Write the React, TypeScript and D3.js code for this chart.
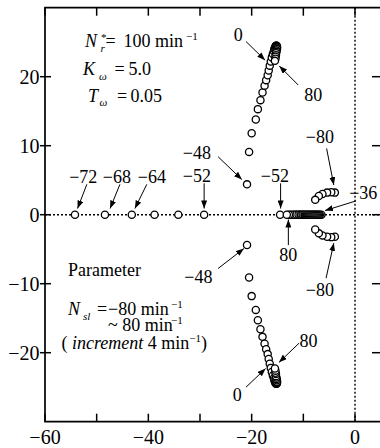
import React from 'react';
import * as d3 from 'd3';

// parameter N_sl (min^-1) for each plotted root
const bigPairN = [-48, -44, -40, -36, -32, -28, -24, -20, -16, -12, -8, -4, 0, 4, 8, 12, 16, 20, 24, 28, 32, 36, 40, 44, 48, 52, 56, 60, 64, 68, 72, 76, 80];
const bigPairRe = [-20.9, -20.5, -20.0, -19.2, -18.8, -18.3, -17.9, -17.5, -17.2, -16.9, -16.7, -16.5, -16.3, -16.1, -15.9, -15.7, -15.6, -15.5, -15.4, -15.3, -15.2, -15.2, -15.1, -15.1, -15.1, -15.1, -15.2, -15.2, -15.3, -15.3, -15.4, -15.4, -15.5];
const bigPairIm = [4.4, 9.1, 11.8, 13.8, 15.3, 16.6, 17.7, 18.7, 19.5, 20.2, 20.9, 21.6, 22.2, 22.8, 23.3, 23.7, 24.0, 24.2, 24.4, 24.5, 24.5, 24.5, 24.4, 24.3, 24.2, 24.0, 23.8, 23.6, 23.4, 23.1, 22.9, 22.6, 22.3];

const leftRealN = [-72, -68, -64, -60, -56, -52];
const leftRealRe = [-54.2, -48.4, -43.2, -38.8, -34.2, -29.2];

const rightRealN = [-52, -36, -32, -28, -24, -20, -16, -12, -8, -4, 0, 4, 8, 12, 16, 20, 24, 28, 32, 36, 40, 44, 48, 52, 56, 60, 64, 68, 72, 76, 80];
const rightRealRe = [-14.5, -6.5, -6.8, -7.0, -7.2, -7.4, -7.6, -7.8, -8.0, -8.2, -8.4, -8.6, -8.8, -9.0, -9.2, -9.4, -9.6, -9.8, -10.0, -10.2, -10.4, -10.6, -10.8, -11.0, -11.3, -11.5, -11.8, -12.1, -12.5, -12.8, -13.2];

const smallPairN = [-80, -76, -72, -68, -64, -60];
const smallPairRe = [-3.9, -4.6, -5.4, -6.3, -7.0, -7.7];
const smallPairIm = [3.2, 3.25, 3.2, 3.0, 2.7, 2.15];

const xTicks = [-60, -50, -40, -30, -20, -10, 0];
const xTickLabels = [-60, -40, -20, 0];
const yTicks = [-20, -10, 0, 10, 20];

// callouts: label, text centre, arrow tail, arrow head (data units)
const callouts = [
  { label: '0', t: [-22.6, 26.0], a: [-21.1, 25.1], b: [-17.4, 22.4] },
  { label: '80', t: [-8.1, 17.3], a: [-11.0, 18.8], b: [-14.65, 21.55] },
  { label: '−48', t: [-30.6, 8.9], a: [-26.5, 8.4], b: [-21.9, 5.1] },
  { label: '−52', t: [-30.6, 5.6], a: [-29.2, 4.55], b: [-29.2, 0.9] },
  { label: '−52', t: [-15.5, 5.6], a: [-14.4, 4.55], b: [-14.4, 0.9] },
  { label: '80', t: [-12.9, -5.9], a: [-12.9, -4.4], b: [-12.9, -0.7] },
  { label: '−80', t: [-6.8, 11.3], a: [-5.5, 9.6], b: [-4.1, 4.3] },
  { label: '−36', t: [1.6, 3.1], a: [0.2, 2.0], b: [-5.8, 0.6] },
  { label: '−72', t: [-52.6, 5.5], a: [-51.9, 4.4], b: [-53.7, 0.9] },
  { label: '−68', t: [-46.1, 5.5], a: [-45.5, 4.4], b: [-47.4, 0.9] },
  { label: '−64', t: [-39.3, 5.5], a: [-40.3, 4.4], b: [-42.6, 0.9] },
  { label: '−48', t: [-30.3, -9.0], a: [-26.5, -7.8], b: [-21.5, -4.9] },
  { label: '−80', t: [-6.8, -10.9], a: [-5.6, -9.2], b: [-4.1, -4.1] },
  { label: '80', t: [-9.0, -18.3], a: [-10.8, -18.6], b: [-14.7, -21.4] },
  { label: '0', t: [-22.8, -26.1], a: [-21.1, -25.0], b: [-17.3, -22.3] },
];

const FONT = 'Times New Roman';
const fontStyle = { fontFamily: "'Times New Roman', 'Liberation Serif', serif" };
const left = 45, right = 381, top = 7.7, bottom = 421.7;
const x = d3.scaleLinear().domain([-60, 0]).range([left, 355]);
const y = d3.scaleLinear().domain([-30, 30]).range([bottom, top]);
const fmt = (v: number) => (v < 0 ? '−' + Math.abs(v) : String(v));

const pts: [number, number][] = [];
bigPairN.forEach((_, i) => { pts.push([bigPairRe[i], bigPairIm[i]]); pts.push([bigPairRe[i], -bigPairIm[i]]); });
leftRealN.forEach((_, i) => pts.push([leftRealRe[i], 0]));
rightRealN.forEach((_, i) => pts.push([rightRealRe[i], 0]));
smallPairN.forEach((_, i) => { pts.push([smallPairRe[i], smallPairIm[i]]); pts.push([smallPairRe[i], -smallPairIm[i]]); });

const Sub = ({ children, x: px, y: py }: { children: string; x: number; y: number }) => (
  <tspan x={px} y={py} fontSize={11} fontStyle="italic">{children}</tspan>
);
const Sup = ({ children, x: px, y: py }: { children: string; x?: number; y: number }) => (
  <tspan x={px} y={py} fontSize={11}>{children}</tspan>
);

const RootLocus = () => (
  <svg width={380} height={448} fontFamily={FONT} style={{ position: 'absolute', left: 0, top: 0, ...fontStyle }}>
    <defs>
      <marker id="head" markerUnits="userSpaceOnUse" markerWidth={9} markerHeight={6} refX={8} refY={3} orient="auto">
        <path d="M0,0 L8,3 L0,6 z" fill="#000" />
      </marker>
    </defs>

    {/* dotted zero lines */}
    <line x1={left} x2={right} y1={y(0)} y2={y(0)} stroke="#000" strokeWidth={1.4} strokeDasharray="2,2" />
    <line x1={x(0)} x2={x(0)} y1={top} y2={bottom} stroke="#000" strokeWidth={1.4} strokeDasharray="2,2" />

    {pts.map((d, i) => (
      <circle key={i} cx={x(d[0])} cy={y(d[1])} r={3.6} fill="#fff" stroke="#000" strokeWidth={1.3} />
    ))}

    <path d={`M${left},${top} H${right} V${bottom} H${left} Z`} fill="none" stroke="#000" strokeWidth={1.7} />
    <g stroke="#000" strokeWidth={1.5}>
      {xTicks.map(v => (
        <g key={v}>
          <line x1={x(v)} x2={x(v)} y1={bottom} y2={bottom - 8} />
          <line x1={x(v)} x2={x(v)} y1={top} y2={top + 8} />
        </g>
      ))}
      {yTicks.map(v => (
        <g key={v}>
          <line x1={left - 5} x2={left + 6} y1={y(v)} y2={y(v)} />
          <line x1={right} x2={right - 9} y1={y(v)} y2={y(v)} />
        </g>
      ))}
    </g>

    {xTickLabels.map(v => (
      <text key={v} x={x(v)} y={443.5} textAnchor="middle" fontFamily={FONT} fontSize={20} style={fontStyle}>{fmt(v)}</text>
    ))}
    {yTicks.map(v => (
      <text key={v} x={39.5} y={y(v) + 7} textAnchor="end" fontFamily={FONT} fontSize={20} style={fontStyle}>{fmt(v)}</text>
    ))}

    {callouts.map((c, i) => (
      <g key={i}>
        <line x1={x(c.a[0])} y1={y(c.a[1])} x2={x(c.b[0])} y2={y(c.b[1])} stroke="#000" strokeWidth={1} markerEnd="url(#head)" />
        <text x={x(c.t[0])} y={y(c.t[1]) + 6} textAnchor="middle" fontFamily={FONT} fontSize={18} style={fontStyle}>{c.label}</text>
      </g>
    ))}

    <g fontFamily={FONT} fontSize={18} style={fontStyle}>
      <text style={fontStyle}>
        <tspan x={85} y={47} fontStyle="italic">N</tspan>
        <Sub x={100.5} y={51.5}>r</Sub>
        <Sup x={101} y={41}>*</Sup>
        <tspan x={105.5} y={47}>=</tspan>
        <tspan x={123.5} y={47}>100 min</tspan>
        <Sup x={186} y={40}>−1</Sup>
      </text>
      <text style={fontStyle}>
        <tspan x={83} y={75} fontStyle="italic">K</tspan>
        <Sub x={99} y={79.5}>ω</Sub>
        <tspan x={114.5} y={75}>=</tspan>
        <tspan x={128.5} y={75}>5.0</tspan>
      </text>
      <text style={fontStyle}>
        <tspan x={88} y={101.7} fontStyle="italic">T</tspan>
        <Sub x={99.5} y={106}>ω</Sub>
        <tspan x={117} y={101.7}>=</tspan>
        <tspan x={130.5} y={101.7}>0.05</tspan>
      </text>
      <text x={68} y={276} style={fontStyle}>Parameter</text>
      <text style={fontStyle}>
        <tspan x={68} y={315} fontStyle="italic">N</tspan>
        <Sub x={83} y={319.5}>sl</Sub>
        <tspan x={97} y={315}>=</tspan>
        <tspan x={108} y={315}>−80 min</tspan>
        <Sup x={171} y={308}>−1</Sup>
      </text>
      <text style={fontStyle}>
        <tspan x={108} y={330.5}>~ 80 min</tspan>
        <Sup x={171} y={323.5}>−1</Sup>
      </text>
      <text style={{ whiteSpace: 'pre', ...fontStyle }}>
        <tspan x={61.5} y={348.5}>( </tspan>
        <tspan y={348.5} fontStyle="italic">increment</tspan>
        <tspan y={348.5}> 4 min</tspan>
        <Sup y={341.5}>−1</Sup>
        <tspan y={348.5}>)</tspan>
      </text>
    </g>
  </svg>
);

export default function App() {
  return <RootLocus />;
}
